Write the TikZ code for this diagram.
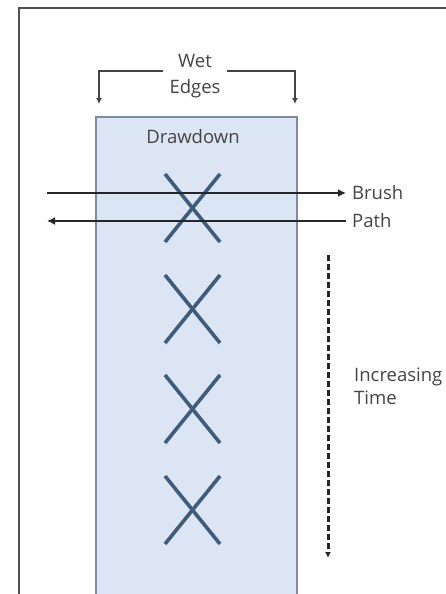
\documentclass[tikz,border=0pt]{standalone}
\usepackage{fontspec}
\setmainfont{Open Sans}
\definecolor{framegray}{HTML}{505050}
\definecolor{paintfill}{HTML}{DCE5F3}
\definecolor{paintedge}{HTML}{7D8CA3}
\definecolor{crossblue}{HTML}{3E5C7C}
\definecolor{labelgray}{HTML}{444444}
\tikzset{
  label text/.style={text=labelgray, font=\fontsize{18.5}{25}\selectfont, inner sep=0pt},
  bracket/.style={draw=labelgray, line width=1.8pt, -{Latex[length=6pt,width=6pt]}},
  brush/.style={draw=black!85, line width=2.6pt, -{Latex[length=8pt,width=8pt]}},
  cross/.style={draw=crossblue, line width=3.6pt},
  timeline/.style={draw=black!85, line width=3pt, dash pattern=on 6pt off 3pt, -{Latex[length=6pt,width=6pt]}}
}
\usetikzlibrary{arrows.meta}
\begin{document}
\begin{tikzpicture}[x=1pt,y=-1pt]
  \useasboundingbox (0,0) rectangle (446,594);
  \clip (0,0) rectangle (446,594);

  % frame
  \draw[framegray, line width=2.8pt] (19,8) rectangle (470,620);

  % drawdown strip
  \fill[paintfill] (96,117) rectangle (297,620);
  \draw[paintedge, line width=2.4pt] (96,620) -- (96,117) -- (297,117) -- (297,620);
  \node[label text] (drawdown) at (193,137) {Drawdown};

  % wet edges
  \node[label text, align=center, inner xsep=6pt,
        font=\fontsize{18.5}{26}\selectfont] (wet) at (195,76) {Wet\\Edges};
  \coordinate (edgeL) at (99,104);
  \coordinate (edgeR) at (295,104);
  \draw[bracket] (wet.west |- 0,71) -| (edgeL);
  \draw[bracket] (wet.east |- 0,71) -| (edgeR);

  % crosses
  \foreach \cy in {208,309,409,510}{
    \draw[cross] (165,\cy-34) -- (220,\cy+34);
    \draw[cross] (220,\cy-34) -- (165,\cy+34);
  }

  % brush path
  \node[label text, anchor=west, inner xsep=6pt] (brush) at (346,193) {Brush};
  \node[label text, anchor=west, inner xsep=6pt] (path) at (346,221) {Path};
  \coordinate (brushL) at (47,193);
  \coordinate (pathL) at (47,221);
  \draw[brush] (brushL) -- (brush.west);
  \draw[brush] (path.west) -- (pathL);

  % time
  \coordinate (timeS) at (328,255);
  \coordinate (timeE) at (328,558);
  \draw[timeline] (timeS) -- (timeE);
  \node[label text, anchor=west, align=left,
        font=\fontsize{18.5}{23}\selectfont] (time) at (354,386) {Increasing\\Time};
\end{tikzpicture}
\end{document}
